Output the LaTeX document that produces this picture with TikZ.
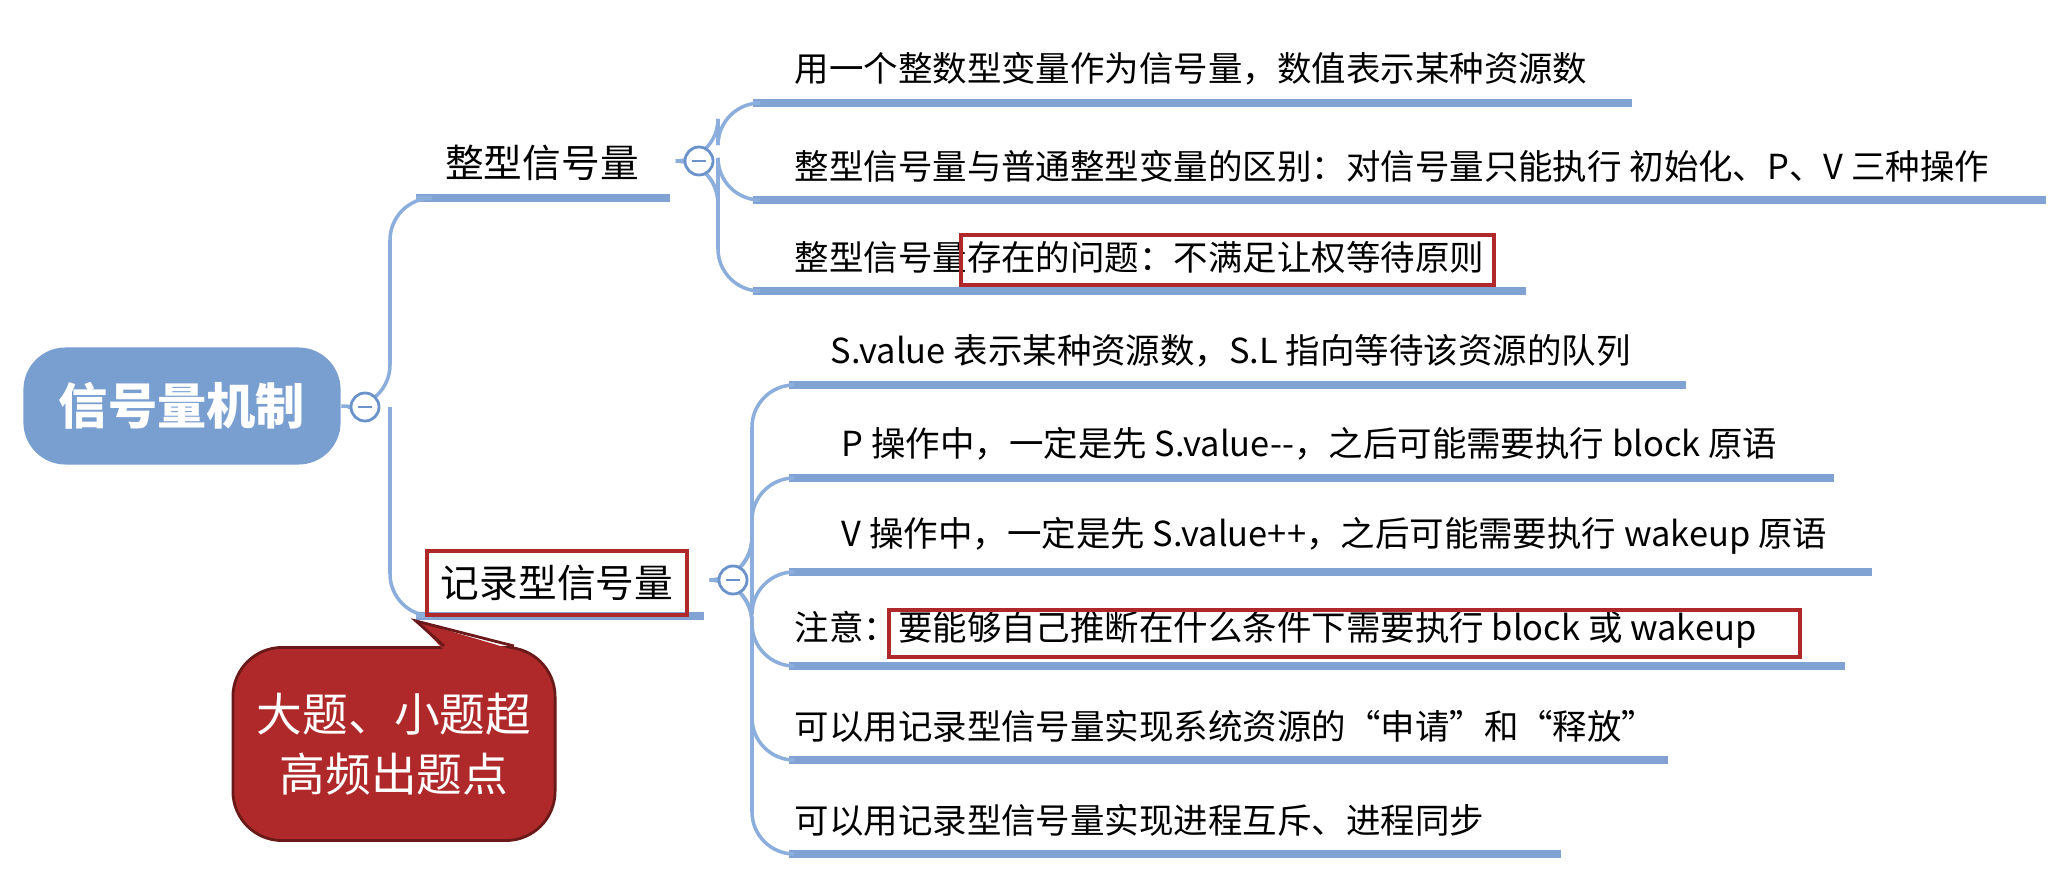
\documentclass[tikz,border=0pt]{standalone}
\usepackage{fontspec}
\setmainfont{Noto Sans CJK SC}
\usetikzlibrary{positioning}
\definecolor{mapblue}{HTML}{6A93CB}
\definecolor{linkblue}{HTML}{8CAEDC}
\definecolor{boxred}{HTML}{B0292A}
\tikzset{
  leaf/.style={anchor=south west,inner sep=2pt,font=\fontsize{9.8}{11}\selectfont},
  bar/.style={draw=mapblue!85,line width=2.2pt},
  link/.style={draw=linkblue,line width=1pt,rounded corners=12},
  fold/.style={circle,draw=mapblue,fill=white,line width=0.8pt,minimum size=0.28cm,inner sep=0pt,
    path picture={\draw[mapblue,line width=0.8pt] ([xshift=-0.07cm]path picture bounding box.center) -- ([xshift=0.07cm]path picture bounding box.center);}},
  redmark/.style={draw=boxred,line width=1pt},
}
\begin{document}
\begin{tikzpicture}[x=0.01cm,y=-0.01cm]
\useasboundingbox (0,0) rectangle (2072,894);
\fill[white] (0,0) rectangle (2072,894);

% root
\node[fill=mapblue!90,rounded corners=12,minimum width=3.17cm,minimum height=1.17cm,
  text=white,font=\fontsize{14}{18}\selectfont\bfseries] (root) at (182,406) {信号量机制};
\coordinate (f0) at (365,407);
\draw[link] (root.east) -- (f0);

% level 1
\coordinate (a0) at (416,198); \coordinate (a1) at (670,198);
\coordinate (b0) at (416,616); \coordinate (b1) at (704,616);
\draw[bar] (a0) -- (a1);
\draw[bar] (b0) -- (b1);
\draw[link] (f0) -- (390,407) |- (a0);
\draw[link] (390,407) |- (b0);
\node[font=\fontsize{11}{13}\selectfont] (int) at (542,163) {整型信号量};
\node[font=\fontsize{11}{13}\selectfont,redmark,inner sep=4pt] (rec) at (557,583) {记录型信号量};

% leaves of 整型信号量
\foreach \n/\y/\e/\t in {
  1/103/1632/用一个整数型变量作为信号量，数值表示某种资源数,
  2/200/2046/整型信号量与普通整型变量的区别：对信号量只能执行 初始化、P、V 三种操作,
  3/291/1526/整型信号量存在的问题：不满足让权等待原则}{
  \coordinate (p\n) at (753,\y); \coordinate (q\n) at (\e,\y);
  \draw[bar] (p\n) -- (q\n);
  \draw[link] (699,161) -- (718,161) |- (p\n);
  \node[leaf] (t\n) at (787,\y-10) {\t};
}
\draw[redmark] (961,235) rectangle (1494,285);

% leaves of 记录型信号量
\foreach \n/\y/\e/\dx/\t in {
  4/385/1686/36/S.value 表示某种资源数，S.L 指向等待该资源的队列,
  5/478/1834/47/P 操作中，一定是先 S.value-{}-，之后可能需要执行 block 原语,
  6/572/1872/47/V 操作中，一定是先 S.value++，之后可能需要执行 wakeup 原语,
  7/666/1845/0/注意：要能够自己推断在什么条件下需要执行 block 或 wakeup,
  8/760/1668/0/可以用记录型信号量实现系统资源的“申请”和“释放”,
  9/854/1561/0/可以用记录型信号量实现进程互斥、进程同步}{
  \coordinate (p\n) at (789,\y); \coordinate (q\n) at (\e,\y);
  \draw[bar] (p\n) -- (q\n);
  \draw[link] (733,580) -- (752,580) |- (p\n);
  \node[leaf] (t\n) at (787+\dx,\y-10) {\t};
}
\draw[redmark] (889,610) rectangle (1800,657);

% fold buttons
\node[fold] (c0) at (365,407) {};
\node[fold] (c1) at (699,161) {};
\node[fold] (c2) at (733,580) {};

% callout
\node[fill=boxred,draw=boxred!60!black,line width=0.8pt,rounded corners=14,
  minimum width=3.22cm,minimum height=1.93cm,align=center,text=white,
  font=\fontsize{13}{17}\selectfont] (tip) at (394,744) {大题、小题超\\高频出题点};
\coordinate (tippt) at (416,621);
\fill[boxred] ([xshift=0.5cm,yshift=-0.04cm]tip.north) -- (tippt) -- ([xshift=1.2cm,yshift=-0.04cm]tip.north) -- cycle;
\draw[boxred!60!black,line width=0.8pt] ([xshift=0.5cm]tip.north) -- (tippt) -- ([xshift=1.2cm]tip.north);
\end{tikzpicture}
\end{document}
